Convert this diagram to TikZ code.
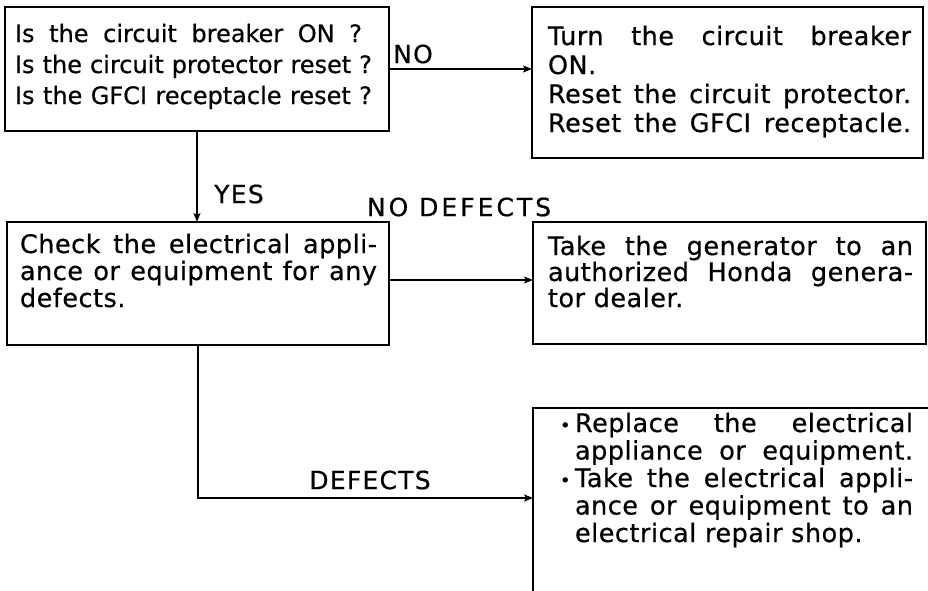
\documentclass[tikz,border=0pt]{standalone}
\usepackage{fontspec}
\usepackage{graphicx}
\setmainfont{DejaVu Sans}
\newfontfamily\fA[FakeBold=0.6]{DejaVu Sans}
\newfontfamily\fB[LetterSpace=2,FakeBold=0.6]{DejaVu Sans}
\newfontfamily\fL[LetterSpace=5,FakeBold=0.6]{DejaVu Sans}
\newfontfamily\fW[LetterSpace=12,FakeBold=0.6]{DejaVu Sans}
\usetikzlibrary{arrows.meta}
\newcommand{\jl}[2]{\makebox[#1][s]{#2}}
\newcommand{\bul}{\makebox[15pt][l]{\raisebox{0.5pt}{\scalebox{0.7}{•}}}}
\begin{document}
\begin{tikzpicture}[x=1pt,y=-1pt,
  box/.style={draw, line width=1.4pt, anchor=north west, inner sep=0pt, outer sep=0pt},
  txt/.style={anchor=base west, inner sep=0pt, outer sep=0pt},
  arr/.style={line width=1.4pt, -{Stealth[length=9pt,width=7pt,inset=2pt]}},
  lab/.style={inner sep=0pt, font=\fL\fontsize{25}{25}\selectfont}]
\useasboundingbox (0,0) rectangle (928,590);
\clip (0,0) rectangle (928,590);

% boxes
\node[box, minimum width=384pt, minimum height=124pt] (q) at (5,7) {};
\node[box, minimum width=391pt, minimum height=151pt] (b2) at (532,7) {};
\node[box, minimum width=382pt, minimum height=123pt] (chk) at (7,222) {};
\node[box, minimum width=393pt, minimum height=122pt] (b3) at (533,222) {};
\node[box, minimum width=420pt, minimum height=200pt] (b4) at (533,408) {};

% texts
\node[txt] (qt) at (15,42) {\parbox[t]{357pt}{\fA\fontsize{24}{31}\selectfont
  \jl{347pt}{Is the circuit breaker ON ?}\\
  \jl{\linewidth}{Is the circuit protector reset ?}\\
  \jl{\linewidth}{Is the GFCI receptacle reset ?}}};
\node[txt] (b2t) at (548,45) {\parbox[t]{363pt}{\fB\fontsize{25.5}{29}\selectfont
  \jl{\linewidth}{Turn the circuit breaker}\\
  ON.\\
  \jl{\linewidth}{Reset the circuit protector.}\\
  \jl{\linewidth}{Reset the GFCI receptacle.}}};
\node[txt] (chkt) at (20,253) {\parbox[t]{357pt}{\fB\fontsize{25.5}{27}\selectfont
  \jl{\linewidth}{Check the electrical appli-}\\
  \jl{\linewidth}{ance or equipment for any}\\
  defects.}};
\node[txt] (b3t) at (548,255) {\parbox[t]{365pt}{\fB\fontsize{25.5}{26}\selectfont
  \jl{\linewidth}{Take the generator to an}\\
  \jl{\linewidth}{authorized Honda genera-}\\
  tor dealer.}};
\node[txt] (b4t) at (560,432) {\parbox[t]{353pt}{\fB\fontsize{25.5}{27.5}\selectfont
  \bul\jl{338pt}{Replace the electrical}\\
  \hspace*{15pt}\jl{338pt}{appliance or equipment.}\\
  \bul\jl{338pt}{Take the electrical appli-}\\
  \hspace*{15pt}\jl{338pt}{ance or equipment to an}\\
  \hspace*{15pt}electrical repair shop.}};

% connectors
\draw[arr] (q.east) -- (q.east -| b2.west);
\draw[arr] (q.south) -- (q.south |- chk.north);
\draw[arr] ([yshift=3.5pt]chk.east) -- ([yshift=3.5pt]chk.east -| b3.west);
\draw[arr] (chk.south) |- ([yshift=10pt]b4.west);

% labels
\node[lab] (lno) at (413,54) {NO};
\node[lab] (lyes) at (239,194) {YES};
\node[lab, font=\fW\fontsize{25}{25}\selectfont] (lnd) at (459,207) {NO DEFECTS};
\node[lab] (ldef) at (370,480) {DEFECTS};
\end{tikzpicture}
\end{document}
